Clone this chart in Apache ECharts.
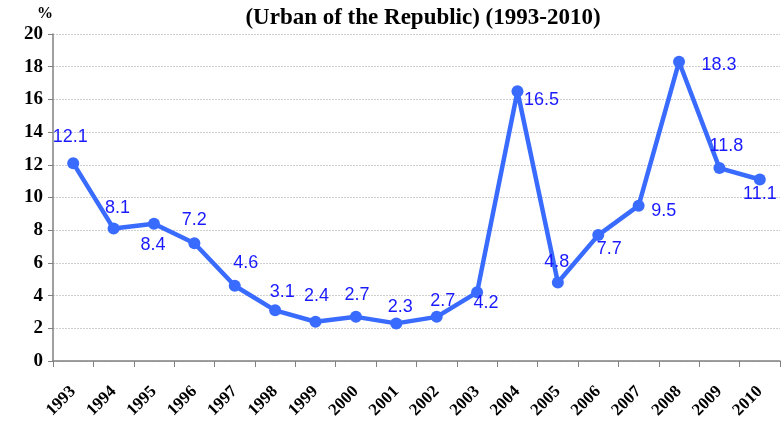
<!DOCTYPE html>
<html>
<head>
<meta charset="utf-8">
<script src="https://cdn.jsdelivr.net/npm/echarts@6/dist/echarts.min.js"></script>
<style>
  html, body { margin: 0; padding: 0; background: #fff; }
  #chart { width: 783px; height: 424px; }
</style>
</head>
<body>
<div id="chart"></div>
<script>
const years = ['1993', '1994', '1995', '1996', '1997', '1998', '1999', '2000', '2001',
  '2002', '2003', '2004', '2005', '2006', '2007', '2008', '2009', '2010']
const rates = [12.1, 8.1, 8.4, 7.2, 4.6, 3.1, 2.4, 2.7, 2.3, 2.7, 4.2, 16.5, 4.8, 7.7, 9.5, 18.3, 11.8, 11.1]

// label shift from each point centre (px), to mimic the hand-placed labels
const labelShift = [
  [-3, -26], [4, -21], [-1, 21], [0, -23], [11, -23], [7, -18],
  [1, -26], [1, -22], [4, -16], [6, -16], [9, 11], [24, 9],
  [-1, -20], [11, 14], [25, 5], [40, 3], [7, -22], [0, 15]
]

const symbolSize = 12
const serif = '"Liberation Serif", "Times New Roman", serif'

const chart = echarts.init(document.getElementById('chart'))

chart.setOption({
  animation: false,
  title: {
    text: '(Urban of the Republic) (1993-2010)',
    left: 418,
    textAlign: 'center',
    top: 2,
    textStyle: { fontFamily: serif, fontWeight: 'bold', fontSize: 23, color: '#000' }
  },
  grid: { left: 53, right: 3, top: 34, bottom: 63 },
  xAxis: {
    type: 'category',
    data: years,
    boundaryGap: true,
    axisLine: { lineStyle: { color: '#808080', width: 1.5 } },
    axisTick: { show: true, length: 6, lineStyle: { color: '#808080' } },
    axisLabel: {
      rotate: 45,
      margin: 28,
      fontFamily: serif,
      fontWeight: 'bold',
      fontSize: 17,
      color: '#000'
    },
    splitLine: { show: false }
  },
  yAxis: {
    type: 'value',
    name: '%',
    nameLocation: 'end',
    nameGap: 12,
    nameTextStyle: { fontFamily: serif, fontWeight: 'bold', fontSize: 16, color: '#000', align: 'right' },
    min: 0,
    max: 20,
    interval: 2,
    axisLine: { show: true, lineStyle: { color: '#808080', width: 1.5 } },
    axisTick: { show: true, length: 5, lineStyle: { color: '#808080' } },
    axisLabel: {
      margin: 10,
      fontFamily: serif,
      fontWeight: 'bold',
      fontSize: 19,
      color: '#000'
    },
    splitLine: { lineStyle: { color: '#cfcfcf', type: [2, 1], width: 1 } }
  },
  series: [{
    type: 'line',
    data: rates.map((v, i) => ({
      value: v,
      label: {
        position: [symbolSize / 2 + labelShift[i][0], symbolSize / 2 + labelShift[i][1]]
      }
    })),
    symbol: 'circle',
    symbolSize: symbolSize,
    lineStyle: { color: '#3a6bff', width: 4.5 },
    itemStyle: { color: '#3a6bff' },
    label: {
      show: true,
      align: 'center',
      verticalAlign: 'middle',
      fontFamily: 'Arial, "Liberation Sans", sans-serif',
      fontSize: 18,
      color: '#1a1aff'
    }
  }]
})
</script>
</body>
</html>
